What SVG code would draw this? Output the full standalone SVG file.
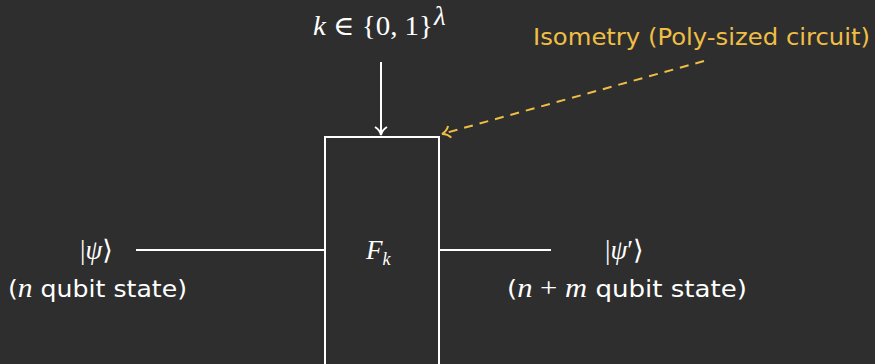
<svg xmlns="http://www.w3.org/2000/svg" width="875" height="364" viewBox="0 0 875 364">
<style>
.bg{fill:#2e2e2e}
.w{stroke:#ffffff;stroke-width:2;fill:none}
.y{stroke:#f0be45;stroke-width:2;fill:none}
.m{font-family:"Liberation Serif","DejaVu Serif",serif;fill:#ffffff;font-size:27px}
.i{font-style:italic}
.s{font-family:"DejaVu Sans","Liberation Sans",sans-serif;fill:#ffffff;font-size:23px}
.ys{font-family:"DejaVu Sans","Liberation Sans",sans-serif;fill:#f0be45;font-size:23px}
</style>
<defs>
<marker id="aw" markerWidth="14" markerHeight="14" refX="10" refY="7" orient="auto" markerUnits="userSpaceOnUse">
<path d="M2,1 Q5,6 10,7 Q5,8 2,13" stroke="#ffffff" stroke-width="2" fill="none"/>
</marker>
<marker id="ay" markerWidth="14" markerHeight="14" refX="10" refY="7" orient="auto" markerUnits="userSpaceOnUse">
<path d="M2,1 Q5,6 10,7 Q5,8 2,13" stroke="#f0be45" stroke-width="2" fill="none"/>
</marker>
</defs>
<rect class="bg" x="0" y="0" width="875" height="364"/>
<g id="connectors">
<line class="w" x1="381" y1="62" x2="381" y2="135" marker-end="url(#aw)"/>
<line class="w" x1="136" y1="250" x2="325" y2="250"/>
<line class="w" x1="439" y1="250" x2="551" y2="250"/>
<line class="y" x1="704" y1="61" x2="442" y2="134" stroke-dasharray="9,7" marker-end="url(#ay)"/>
</g>
<g id="box">
<rect class="w" x="325" y="137" width="114" height="240" fill="#2e2e2e"/>
<text class="m i" x="366" y="259">F<tspan font-size="18" dy="6">k</tspan></text>
</g>
<g id="key">
<text class="m" x="313" y="35" textLength="120" lengthAdjust="spacingAndGlyphs"><tspan class="i">k</tspan> ∈ {0, 1}</text>
<text class="m i" x="434" y="25" font-size="17">λ</text>
</g>
<g id="label">
<text class="ys" x="533" y="45" textLength="337" lengthAdjust="spacingAndGlyphs">Isometry (Poly-sized circuit)</text>
</g>
<g id="input">
<text class="m" x="80" y="259">|<tspan class="i">ψ</tspan>⟩</text>
<text class="s" x="8" y="297" textLength="179" lengthAdjust="spacingAndGlyphs">(<tspan class="m i" font-size="26">n</tspan> qubit state)</text>
</g>
<g id="output">
<text class="m" x="605" y="259">|<tspan class="i">ψ</tspan>′⟩</text>
<text class="s" x="507" y="297" textLength="240" lengthAdjust="spacingAndGlyphs">(<tspan class="m i" font-size="26">n</tspan><tspan class="m" font-size="26"> + </tspan><tspan class="m i" font-size="26">m</tspan> qubit state)</text>
</g>
</svg>
